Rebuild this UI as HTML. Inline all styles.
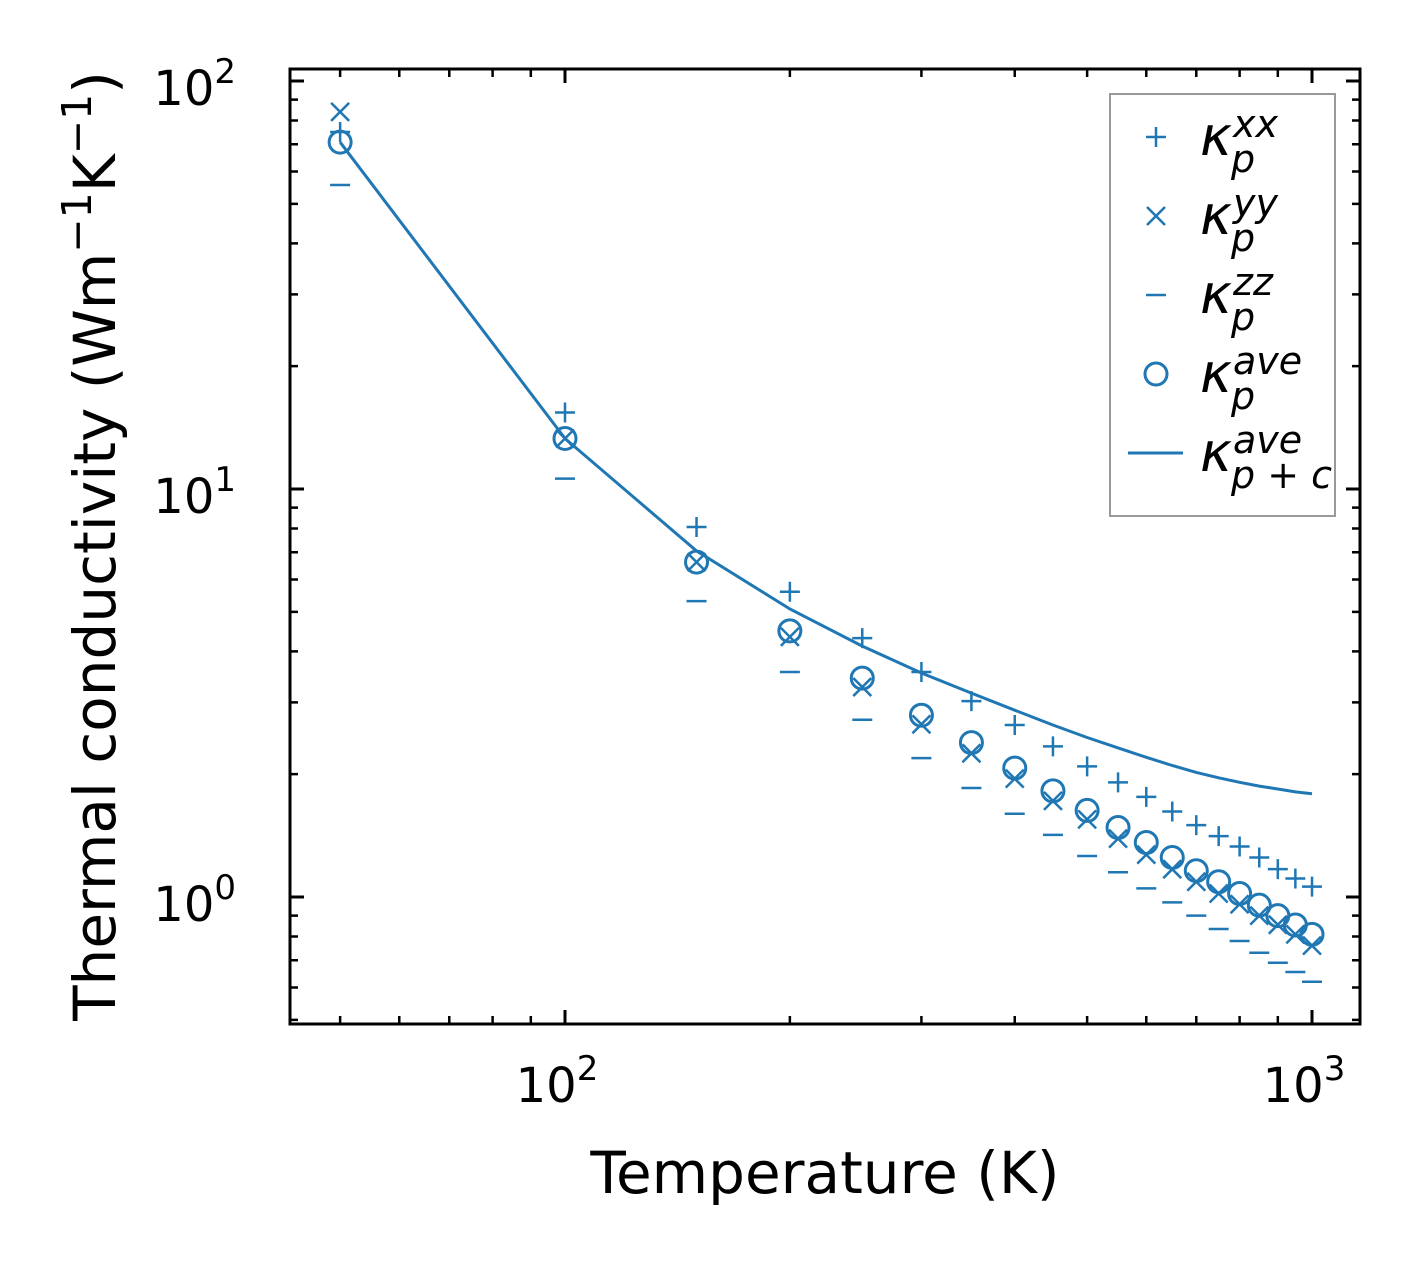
<!DOCTYPE html>
<html><head><meta charset="utf-8"><style>
html,body{margin:0;padding:0;background:#fff;}
svg{display:block;font-family:"DejaVu Sans","Liberation Sans",sans-serif;}
</style></head><body>
<svg id="chart" width="1421" height="1263" viewBox="0 0 1421 1263" xmlns="http://www.w3.org/2000/svg">
<rect x="0" y="0" width="1421" height="1263" fill="#fff"/>
<g id="marks"></g>
<g id="ticks"></g>
<rect x="290" y="69" width="1070" height="955" fill="none" stroke="#000" stroke-width="3"/>
<g font-size="48" fill="#000" text-anchor="middle">
<text x="557" y="1102">10<tspan dy="-22" font-size="34">2</tspan></text>
<text x="1304" y="1102">10<tspan dy="-22" font-size="34">3</tspan></text>
</g>
<g font-size="48" fill="#000" text-anchor="end">
<text x="236" y="105">10<tspan dy="-22" font-size="34">2</tspan></text>
<text x="236" y="513">10<tspan dy="-22" font-size="34">1</tspan></text>
<text x="236" y="921">10<tspan dy="-22" font-size="34">0</tspan></text>
</g>
<text x="825" y="1193" font-size="58" text-anchor="middle">Temperature (K)</text>
<text transform="translate(115,546) rotate(-90)" font-size="58" text-anchor="middle">Thermal conductivity (Wm<tspan dy="-24" font-size="41">−1</tspan><tspan dy="24">K</tspan><tspan dy="-24" font-size="41">−1</tspan><tspan dy="24">)</tspan></text>
<g>
<rect x="1110" y="94" width="225" height="422" fill="#fff" stroke="#999" stroke-width="2"/>
<g id="legendMarks"></g>
</g>
</svg>
<script>
const temps = [50,100,150,200,250,300,350,400,450,500,550,600,650,700,750,800,850,900,950,1000];
const kxx = [75,15.4,8.07,5.6,4.31,3.56,3.02,2.64,2.34,2.09,1.91,1.76,1.62,1.50,1.41,1.33,1.25,1.17,1.11,1.06];
const kyy = [84,13.3,6.62,4.34,3.27,2.65,2.25,1.95,1.72,1.55,1.39,1.27,1.17,1.09,1.02,0.96,0.90,0.855,0.81,0.76];
const kzz = [55.6,10.6,5.31,3.56,2.72,2.19,1.85,1.60,1.42,1.26,1.15,1.05,0.97,0.90,0.835,0.78,0.73,0.69,0.655,0.62];
const kave = [70.8,13.3,6.62,4.49,3.44,2.79,2.39,2.07,1.82,1.63,1.48,1.36,1.25,1.16,1.09,1.02,0.955,0.90,0.854,0.81];
const kpc = [70.8,13.3,7.05,5.08,4.12,3.54,3.16,2.87,2.64,2.46,2.32,2.20,2.10,2.02,1.96,1.91,1.87,1.84,1.81,1.79];
const legendLabels = [["xx","p"],["yy","p"],["zz","p"],["ave","p"],["ave","p + c"]];

const C = "#1f77b4";
const NS = "http://www.w3.org/2000/svg";
function xs(t){return 565 + 747*(Math.log10(t)-2);}
function ys(v){return 897 - 408*Math.log10(v);}
function mk(tag, attrs, parent){const e=document.createElementNS(NS,tag);for(const k in attrs)e.setAttribute(k,attrs[k]);parent.appendChild(e);return e;}
const marks = document.getElementById("marks");
const ticks = document.getElementById("ticks");

function plus(x,y,p,s){mk("path",{d:`M${x-s},${y}H${x+s}M${x},${y-s}V${y+s}`,stroke:C,"stroke-width":2.5,fill:"none"},p);}
function cross(x,y,p,s){mk("path",{d:`M${x-s},${y-s}L${x+s},${y+s}M${x-s},${y+s}L${x+s},${y-s}`,stroke:C,"stroke-width":2.5,fill:"none"},p);}
function dash(x,y,p,s){mk("path",{d:`M${x-s},${y}H${x+s}`,stroke:C,"stroke-width":2.5,fill:"none"},p);}
function circ(x,y,p){mk("circle",{cx:x,cy:y,r:11,stroke:C,"stroke-width":3,fill:"none"},p);}

let d="";
temps.forEach((t,i)=>{d+=(i?"L":"M")+xs(t).toFixed(1)+","+ys(kpc[i]).toFixed(1);});
const ln = mk("path",{d:d,stroke:C,"stroke-width":3,fill:"none"},marks);



temps.forEach((t,i)=>{
  const x=xs(t);
  const g1=mk("g",{},marks);
  
  
  plus(x,ys(kxx[i]),g1,10);
  const g2=mk("g",{},marks);
  
  
  cross(x,ys(kyy[i]),g2,9);
  const g3=mk("g",{},marks);
  
  
  dash(x,ys(kzz[i]),g3,10);
  const g4=mk("g",{},marks);
  
  
  circ(x,ys(kave[i]),g4);
});

function tk(d,w){mk("path",{d:d,stroke:"#000","stroke-width":w,fill:"none"},ticks);}
[50,60,70,80,90,100,200,300,400,500,600,700,800,900,1000].forEach(t=>{
  const x=xs(t); const major=(t===100||t===1000); const L=major?14:8;
  tk(`M${x},1024V${1024-L}M${x},69V${69+L}`,major?3:2.5);
});
[0.5,0.6,0.7,0.8,0.9,1,2,3,4,5,6,7,8,9,10,20,30,40,50,60,70,80,90,100].forEach(v=>{
  const y=ys(v); const major=(v===1||v===10||v===100); const L=major?14:8;
  tk(`M290,${y}H${290+L}M1360,${y}H${1360-L}`,major?3:2.5);
});

const lg=document.getElementById("legendMarks");
const ly=[137,216,295,374,453];
plus(1156,ly[0],lg,10); cross(1156,ly[1],lg,9); dash(1156,ly[2],lg,10); circ(1156,ly[3],lg);
mk("path",{d:`M1128,${ly[4]}H1183`,stroke:C,"stroke-width":3},lg);
const ent=["legend-entry-xx","legend-entry-yy","legend-entry-zz","legend-entry-ave","legend-entry-p-plus-c"];
legendLabels.forEach((l,i)=>{
  const t=mk("text",{x:1200,y:ly[i]+18,"font-size":54,"font-style":"italic",fill:"#000"},lg);
  
  
  const a=document.createElementNS(NS,"tspan"); a.textContent="κ"; t.appendChild(a);
  const sup=document.createElementNS(NS,"tspan"); sup.setAttribute("x",1233); sup.setAttribute("dy",-18); sup.setAttribute("font-size",38); sup.textContent=l[0]; t.appendChild(sup);
  const sub=document.createElementNS(NS,"tspan"); sub.setAttribute("x",1231); sub.setAttribute("dy",35); sub.setAttribute("font-size",38); sub.textContent=l[1]; t.appendChild(sub);
});
</script>
</body></html>
